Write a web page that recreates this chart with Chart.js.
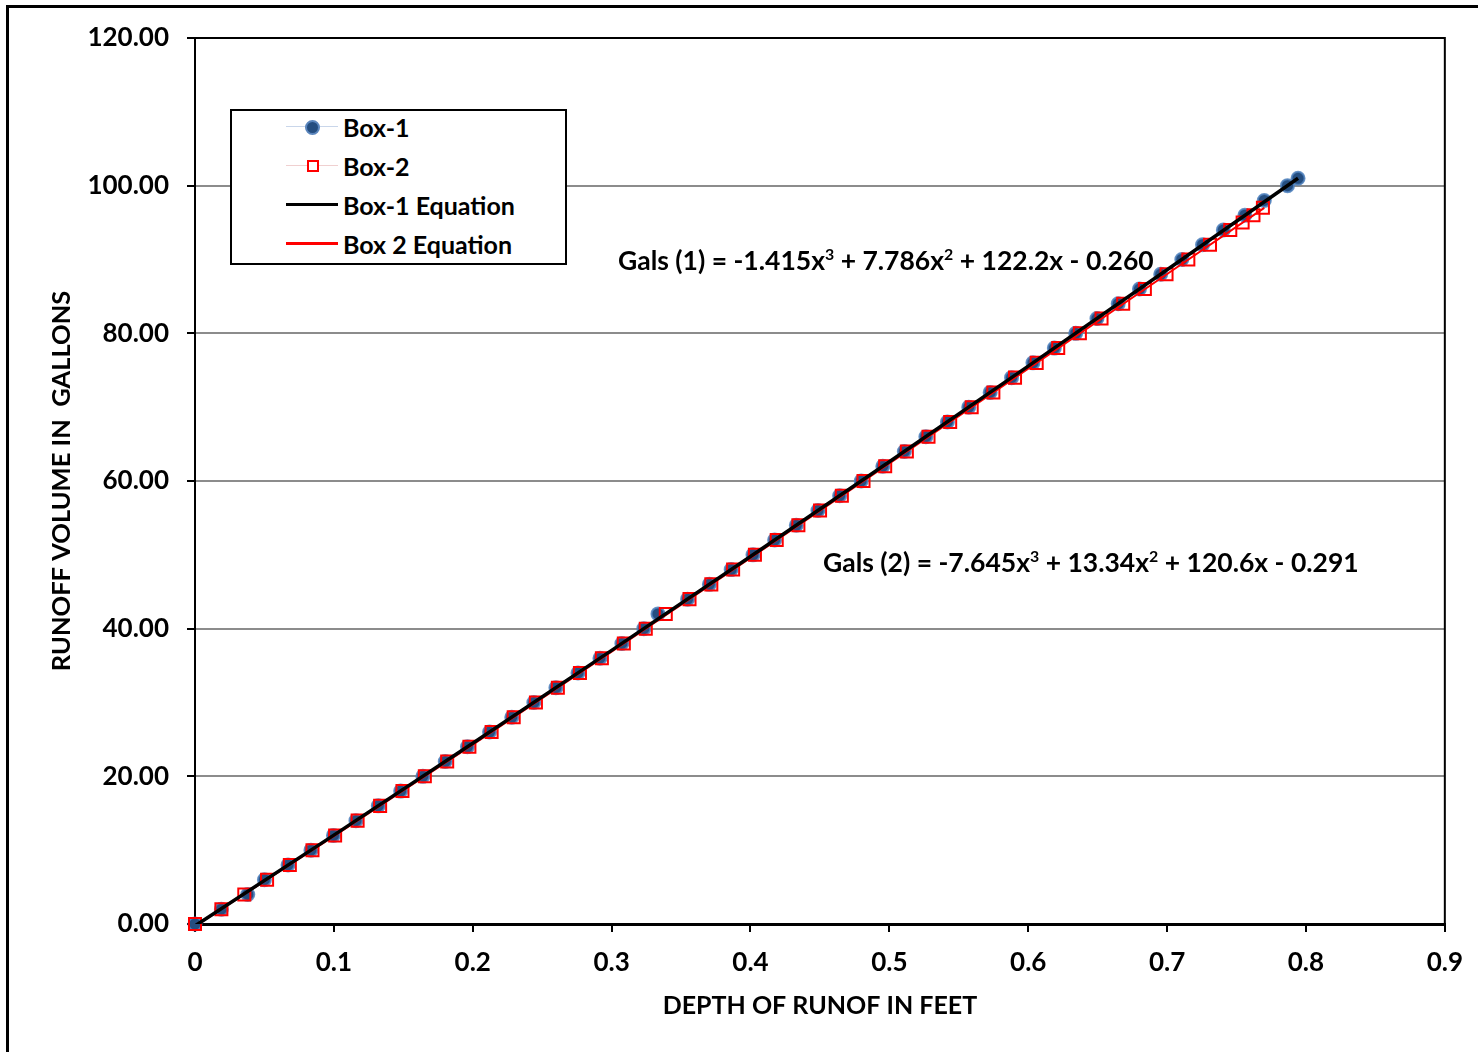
<!DOCTYPE html>
<html lang="en">
<head>
    <meta charset="UTF-8">
    <title>Runoff volume vs depth</title>
    <script src="https://cdn.jsdelivr.net/npm/chart.js"></script>
    <style>
        body {
            margin: 0;
            overflow: hidden;
            background: #fff;
            font-family: Lato, sans-serif;
            font-weight: bold;
        }
        #wrap {
            position: relative;
            width: 1478px;
            height: 1052px;
        }
        #frame {
            position: absolute;
            left: 6px;
            top: 5px;
            width: 2000px;
            height: 2000px;
            border: 3px solid #000;
            pointer-events: none;
        }
        #legend {
            position: absolute;
            left: 230px;
            top: 109px;
            width: 333px;
            height: 152px;
            border: 2px solid #000;
            background: #fff;
        }
        .row {
            position: absolute;
            left: 0;
            height: 30px;
            width: 100%;
        }
        .row .txt {
            position: absolute;
            left: 111px;
            top: 0;
            line-height: 30px;
            font-size: 25px;
        }
        .row .ln {
            position: absolute;
            left: 54px;
            width: 52px;
        }
        .eq {
            position: absolute;
            font-size: 26.5px;
            white-space: nowrap;
            line-height: 30px;
        }
        .eq sup {
            font-size: 0.6em;
            line-height: 0;
        }
    </style>
</head>
<body>
<div id="wrap">
    <canvas id="runoffChart" width="1478" height="1052"></canvas>
    <div id="legend">
        <div class="row" style="top:1px">
            <div class="ln" style="top:14px;height:1px;background:#c9d6ea"></div>
            <div style="position:absolute;left:73px;top:8px;width:11px;height:11px;border-radius:50%;background:#254e80;border:2px solid #5b86bd"></div>
            <div class="txt">Box-1</div>
        </div>
        <div class="row" style="top:40px">
            <div class="ln" style="top:14px;height:1px;background:#f0d0d0"></div>
            <div style="position:absolute;left:75px;top:9px;width:8px;height:8px;border:2px solid #ff0000;background:#fff"></div>
            <div class="txt">Box-2</div>
        </div>
        <div class="row" style="top:79px">
            <div class="ln" style="top:13px;height:3px;background:#000"></div>
            <div class="txt">Box-1 Equation</div>
        </div>
        <div class="row" style="top:118px">
            <div class="ln" style="top:13px;height:3px;background:#ff0000"></div>
            <div class="txt">Box 2 Equation</div>
        </div>
    </div>
    <div class="eq" style="left:618px;top:245px">Gals (1) = -1.415x<sup>3</sup> + 7.786x<sup>2</sup> + 122.2x - 0.260</div>
    <div class="eq" style="left:823px;top:547px">Gals (2) = -7.645x<sup>3</sup> + 13.34x<sup>2</sup> + 120.6x - 0.291</div>
</div>
<div id="frame"></div>
<script>
    // tick labels
    const xTickLabels = ['0', '0.1', '0.2', '0.3', '0.4', '0.5', '0.6', '0.7', '0.8', '0.9'];
    const yTickLabels = ['0.00', '20.00', '40.00', '60.00', '80.00', '100.00', '120.00'];

    // Box-1 measured points (depth ft, gallons)
    const box1Depth = [0, 0.019, 0.038, 0.050, 0.067, 0.0835, 0.0997, 0.1159, 0.1320, 0.1481,
        0.1641, 0.1802, 0.1962, 0.2121, 0.2281, 0.2440, 0.2599, 0.2758, 0.2916, 0.3074,
        0.3232, 0.3334, 0.3547, 0.3704, 0.3861, 0.4018, 0.4174, 0.4330, 0.4486, 0.4642,
        0.4797, 0.4953, 0.5108, 0.5263, 0.5418, 0.5572, 0.5726, 0.5880, 0.6034, 0.6188,
        0.6342, 0.6495, 0.6648, 0.6801, 0.6954, 0.7106, 0.7255, 0.7405, 0.7560, 0.7700,
        0.7867, 0.7943];
    const box1Gallons = [0, 2, 4, 6, 8, 10, 12, 14, 16, 18,
        20, 22, 24, 26, 28, 30, 32, 34, 36, 38,
        40, 42, 44, 46, 48, 50, 52, 54, 56, 58,
        60, 62, 64, 66, 68, 70, 72, 74, 76, 78,
        80, 82, 84, 86, 88, 90, 92, 94, 96, 98,
        100, 101];

    // Box-2 measured points
    const box2Depth = [0, 0.0190, 0.0355, 0.0519, 0.0683, 0.0846, 0.1009, 0.1171, 0.1333, 0.1494,
        0.1655, 0.1816, 0.1976, 0.2136, 0.2295, 0.2455, 0.2613, 0.2772, 0.2930, 0.3088,
        0.3246, 0.3390, 0.3561, 0.3718, 0.3875, 0.4032, 0.4189, 0.4345, 0.4501, 0.4658,
        0.4814, 0.4970, 0.5126, 0.5282, 0.5438, 0.5593, 0.5749, 0.5905, 0.6061, 0.6216,
        0.6372, 0.6528, 0.6684, 0.6840, 0.6996, 0.7153, 0.7309, 0.7455, 0.7544, 0.7622,
        0.7690];
    const box2Gallons = [0, 2, 4, 6, 8, 10, 12, 14, 16, 18,
        20, 22, 24, 26, 28, 30, 32, 34, 36, 38,
        40, 42, 44, 46, 48, 50, 52, 54, 56, 58,
        60, 62, 64, 66, 68, 70, 72, 74, 76, 78,
        80, 82, 84, 86, 88, 90, 92, 94, 95, 96,
        97];

    // fitted equation curves
    const eq1Depth = [0, 0.1, 0.2, 0.3, 0.4, 0.5, 0.6, 0.7, 0.7943];
    const eq1Gallons = [-0.26, 12.04, 24.48, 37.06, 49.78, 62.61, 75.56, 88.61, 101.0];
    const eq2Depth = [0, 0.1, 0.2, 0.3, 0.4, 0.5, 0.6, 0.7, 0.770];
    const eq2Gallons = [-0.29, 11.90, 24.30, 36.88, 49.59, 62.39, 75.22, 88.04, 97.0];

    const toXY = (xs, ys) => xs.map((x, i) => ({ x: x, y: ys[i] }));

    // top and right edges of the plot box
    const plotBox = {
        id: 'plotBox',
        afterDraw(chart) {
            const a = chart.chartArea;
            const c = chart.ctx;
            c.save();
            c.strokeStyle = '#000';
            c.lineWidth = 2;
            c.beginPath();
            c.moveTo(a.left, a.top);
            c.lineTo(a.right, a.top);
            c.lineTo(a.right, a.bottom);
            c.stroke();
            c.restore();
        }
    };

    Chart.defaults.font.family = 'Lato, sans-serif';
    Chart.defaults.font.weight = 'bold';
    Chart.defaults.color = '#000';

    const ctx = document.getElementById('runoffChart').getContext('2d');
    new Chart(ctx, {
        type: 'scatter',
        data: {
            datasets: [
                {
                    label: 'Box-1',
                    data: toXY(box1Depth, box1Gallons),
                    pointStyle: 'circle',
                    pointRadius: 6.5,
                    backgroundColor: '#254e80',
                    borderColor: 'rgba(79, 129, 189, 0.85)',
                    borderWidth: 2,
                    showLine: false,
                    clip: false,
                    order: 3
                },
                {
                    label: 'Box-2',
                    data: toXY(box2Depth, box2Gallons),
                    pointStyle: 'rect',
                    pointRadius: 8.5,
                    backgroundColor: 'transparent',
                    borderColor: '#ff0000',
                    borderWidth: 2,
                    showLine: false,
                    clip: false,
                    order: 2
                },
                {
                    label: 'Box-1 Equation',
                    data: toXY(eq1Depth, eq1Gallons),
                    showLine: true,
                    borderColor: '#000',
                    borderWidth: 3.5,
                    pointRadius: 0,
                    order: 0
                },
                {
                    label: 'Box 2 Equation',
                    data: toXY(eq2Depth, eq2Gallons),
                    showLine: true,
                    borderColor: '#ff0000',
                    borderWidth: 2,
                    pointRadius: 0,
                    order: 1
                }
            ]
        },
        options: {
            responsive: false,
            animation: false,
            events: [],
            layout: {
                padding: { left: 0, top: 38, right: 33, bottom: 0 }
            },
            plugins: {
                legend: { display: false },
                tooltip: { enabled: false }
            },
            scales: {
                x: {
                    type: 'linear',
                    min: 0,
                    max: 0.9,
                    afterFit: (s) => { s.height = 128; },
                    ticks: {
                        stepSize: 0.1,
                        padding: 15,
                        font: { size: 26, weight: 'bold' },
                        callback: (v, i) => xTickLabels[i]
                    },
                    grid: {
                        drawOnChartArea: false,
                        tickLength: 8,
                        tickColor: '#000',
                        lineWidth: 2
                    },
                    border: { display: true, color: '#000', width: 3 },
                    title: {
                        display: true,
                        text: 'DEPTH OF RUNOF IN FEET',
                        font: { size: 25, weight: 'bold' },
                        padding: { top: 0, bottom: 31 }
                    }
                },
                y: {
                    min: 0,
                    max: 120,
                    afterFit: (s) => { s.width = 195; },
                    ticks: {
                        stepSize: 20,
                        padding: 18,
                        font: { size: 26, weight: 'bold' },
                        callback: (v, i) => yTickLabels[i]
                    },
                    grid: {
                        color: '#8c8c8c',
                        lineWidth: 2,
                        tickLength: 8,
                        tickColor: '#000'
                    },
                    border: { display: true, color: '#000', width: 2 },
                    title: {
                        display: true,
                        text: 'RUNOFF VOLUME IN  GALLONS',
                        font: { size: 25.5, weight: 'bold' },
                        padding: { top: 46, bottom: 0 }
                    }
                }
            }
        },
        plugins: [plotBox]
    });
</script>
</body>
</html>
